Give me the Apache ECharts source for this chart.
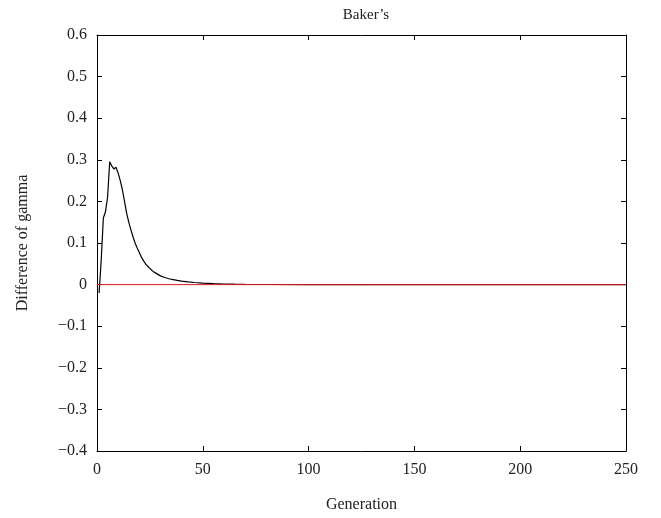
<!DOCTYPE html>
<html>
<head>
<meta charset="utf-8">
<script src="https://cdn.jsdelivr.net/npm/echarts@6/dist/echarts.min.js"></script>
<style>
  html, body { margin: 0; padding: 0; background: #fff; }
  #main { width: 661px; height: 518px; }
</style>
</head>
<body>
<div id="main"></div>
<script>
// generations and difference values
const generations = [1, 2, 3, 4, 5, 6, 7, 8, 9, 10, 11, 12, 13, 14, 15, 16, 17, 18, 19, 20,
  21, 22, 23, 24, 25, 26, 27, 28, 29, 30, 32, 34, 36, 38, 40, 43, 46, 50, 55, 60,
  65, 70, 80, 100, 150, 200, 250]
const diffValues = [-0.02, 0.06, 0.16, 0.175, 0.21, 0.295, 0.285, 0.278, 0.282, 0.268,
  0.25, 0.228, 0.2, 0.172, 0.15, 0.132, 0.115, 0.1, 0.088, 0.077,
  0.066, 0.057, 0.05, 0.044, 0.039, 0.034, 0.03, 0.027, 0.024, 0.021,
  0.017, 0.014, 0.012, 0.01, 0.0085, 0.0065, 0.005, 0.0035, 0.0022, 0.0015,
  0.001, 0.0007, 0.0003, 0.0001, 0, 0, 0]
// reference zero line
const zeroLineX = [0, 250]
const zeroLineY = [0, 0]

const font = 'Liberation Serif'
const chart = echarts.init(document.getElementById('main'), null, { renderer: 'canvas' })

const fmtY = v => {
  if (Math.abs(v) < 1e-9) return '0'
  return v < 0 ? '\u2212' + Math.abs(v).toFixed(1) : v.toFixed(1)
}

const baseAxis = {
  axisLine: { show: true, onZero: false, lineStyle: { color: '#000', width: 1 } },
  axisTick: { show: true, inside: true, length: 5, lineStyle: { color: '#000' } },
  splitLine: { show: false }
}

const option = {
  animation: false,
  backgroundColor: '#fff',
  title: {
    text: 'Baker\u2019s',
    left: 361,
    top: 3,
    textAlign: 'center',
    textStyle: { fontFamily: font, fontSize: 15, fontWeight: 'normal', color: '#222' }
  },
  grid: { left: 97, right: 35, top: 35, bottom: 66 },
  xAxis: [
    Object.assign({}, baseAxis, {
      type: 'value', min: 0, max: 250, interval: 50, position: 'bottom',
      name: 'Generation', nameLocation: 'middle', nameGap: 46,
      nameTextStyle: { fontFamily: font, fontSize: 16, color: '#222' },
      axisLabel: { fontFamily: font, fontSize: 16, color: '#222', margin: 11 }
    }),
    Object.assign({}, baseAxis, {
      type: 'value', min: 0, max: 250, interval: 50, position: 'top',
      axisLabel: { show: false }
    })
  ],
  yAxis: [
    Object.assign({}, baseAxis, {
      type: 'value', min: -0.4, max: 0.6, interval: 0.1, position: 'left',
      name: 'Difference of gamma', nameLocation: 'middle', nameGap: 66,
      nameTextStyle: { fontFamily: font, fontSize: 16, color: '#222' },
      axisLabel: { fontFamily: font, fontSize: 16, color: '#222', margin: 10, formatter: fmtY }
    }),
    Object.assign({}, baseAxis, {
      type: 'value', min: -0.4, max: 0.6, interval: 0.1, position: 'right',
      axisLabel: { show: false }
    })
  ],
  series: [
    {
      type: 'line',
      xAxisIndex: 0, yAxisIndex: 0,
      data: generations.map((g, i) => [g, diffValues[i]]),
      showSymbol: false,
      lineStyle: { color: '#000', width: 1.2 },
      z: 2
    },
    {
      type: 'line',
      xAxisIndex: 0, yAxisIndex: 0,
      data: zeroLineX.map((x, i) => [x, zeroLineY[i]]),
      showSymbol: false,
      lineStyle: { color: '#e8141c', width: 1 },
      z: 3
    }
  ]
}

chart.setOption(option)
</script>
</body>
</html>
